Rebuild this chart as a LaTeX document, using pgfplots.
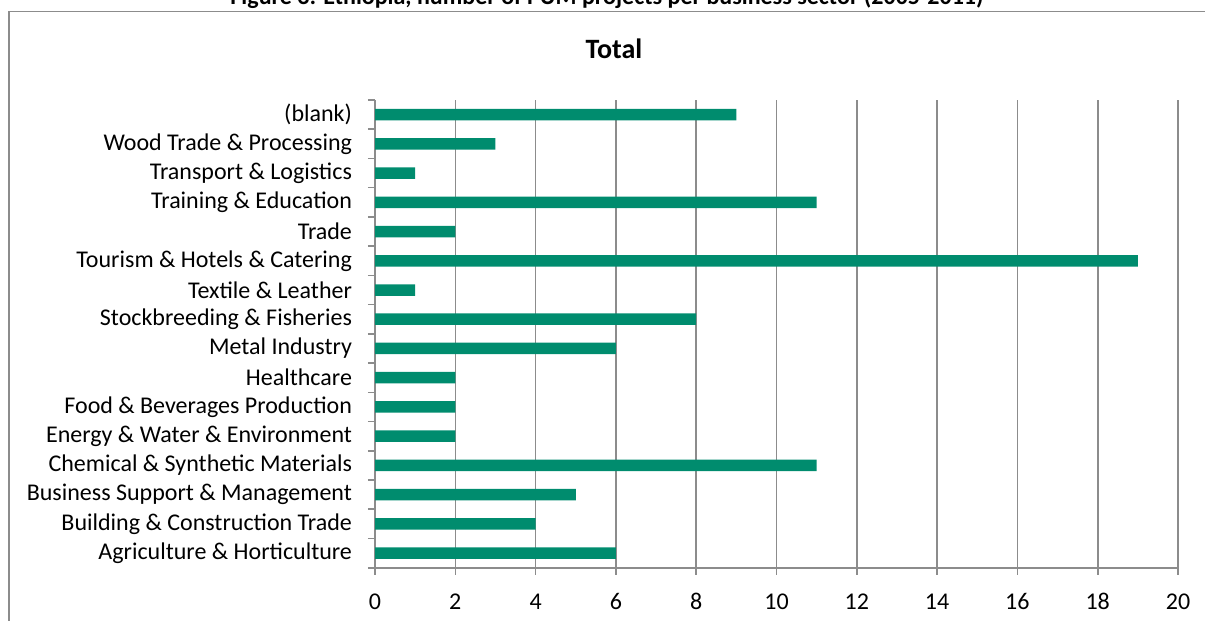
\documentclass[border=0pt]{standalone}
\usepackage{fontspec}
\setmainfont{Carlito}
\usepackage{pgfplots}
\pgfplotsset{compat=1.18}
\definecolor{bargreen}{RGB}{0,140,110}
\definecolor{gridgray}{RGB}{140,140,140}
\begin{document}
\begin{tikzpicture}
\clip (0pt,0pt) rectangle (602.5pt,310.5pt);
\begin{scope}[x=0.5pt,y=0.5pt]
\draw[gridgray, line width=0.8pt] (9,-20) -- (9,609.5) -- (1230,609.5);
\node[anchor=base, font=\fontsize{12pt}{14pt}\selectfont\bfseries, inner sep=0pt] at (607,616.5) {Figure 3: Ethiopia, number of PUM projects per business sector (2005-2011)};
\node[font=\fontsize{14pt}{16pt}\selectfont\bfseries] at (614,572) {Total};
\end{scope}
\begin{axis}[
  at={(187.5pt,26.65pt)}, anchor=south west,
  scale only axis, width=401.5pt, height=233.85pt,
  xbar, bar width=5.75pt,
  xmin=0, xmax=20, ymin=-0.5, ymax=15.5,
  xtick={0,2,...,20},
  ytick={0,...,15},
  yticklabels={Agriculture \& Horticulture, Building \& Construction Trade, Business Support \& Management, Chemical \& Synthetic Materials, Energy \& Water \& Environment, Food \& Beverages Production, Healthcare, Metal Industry, Stockbreeding \& Fisheries, Textile \& Leather, Tourism \& Hotels \& Catering, Trade, Training \& Education, Transport \& Logistics, Wood Trade \& Processing, (blank)},
  extra y ticks={-0.5,0.5,...,15.5},
  extra y tick labels={},
  extra y tick style={ytick style={draw=gridgray, line width=0.8pt}, grid=none},
  axis x line*=bottom, axis y line*=left,
  axis line style={-, gridgray, line width=0.8pt},
  xmajorgrids, major grid style={gridgray, line width=0.8pt},
  major tick length=3.5pt,
  tick align=outside,
  xtick style={gridgray, line width=0.8pt},
  ytick style={draw=none},
  ticklabel style={font=\fontsize{12pt}{14pt}\selectfont},
  /pgf/number format/assume math mode=true,
  yticklabel style={anchor=east, xshift=-4.5pt},
  xticklabel style={anchor=base, yshift=-17.5pt},
]
\addplot[fill=bargreen, draw=none] coordinates {
(6,0) (4,1) (5,2) (11,3) (2,4) (2,5) (2,6) (6,7) (8,8) (1,9) (19,10) (2,11) (11,12) (1,13) (3,14) (9,15)
};
\end{axis}
\end{tikzpicture}
\end{document}
